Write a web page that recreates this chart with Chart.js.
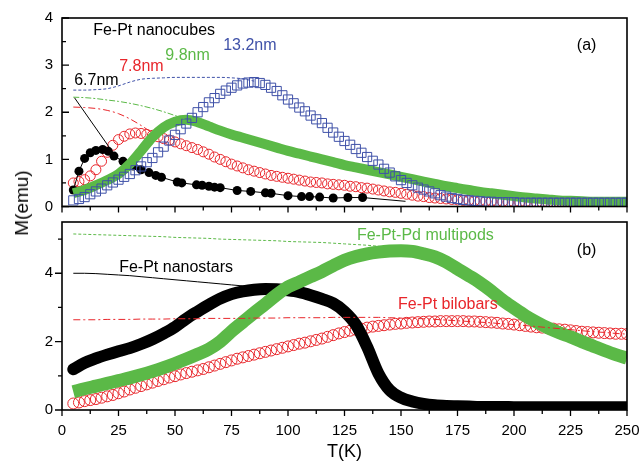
<!DOCTYPE html>
<html>
<head>
<meta charset="utf-8">
<script src="https://cdn.jsdelivr.net/npm/chart.js@4.4.1/dist/chart.umd.min.js"></script>
<style>
  body { margin: 0; background: #fff; }
  #wrap { position: relative; width: 641px; height: 469px; overflow: hidden; font-family: "Liberation Sans", Arial, sans-serif; }
  #topChart { position: absolute; left: 0; top: 0; }
  #botChart { position: absolute; left: 0; top: 214px; }
  #ylab { position: absolute; left: 22px; top: 203px; font-size: 19px; white-space: nowrap;
          transform: translate(-50%, -50%) rotate(-90deg); }
</style>
</head>
<body>
<div id="wrap">
  <canvas id="topChart" width="641" height="214"></canvas>
  <canvas id="botChart" width="641" height="255"></canvas>
  <div id="ylab">M(emu)</div>
</div>
<script>
// temperature grids (K)
var temps = [5,10,15,20,25,30,35,40,45,50,55,60,65,70,75,80,85,90,95,100,105,110,115,120,125,130,135,140,145,150,155,160,165,170,175,180,185,190,195,200,205,210,215,220,225,230,235,240,245,250];
var temps2 = [5,7.5,10,12.5,15,17.5,20,22.5,25,27.5,30,32.5,35,37.5,40,42.5,45,47.5,50,52.5,55,57.5,60,62.5,65,67.5,70,72.5,75,77.5,80,82.5,85,87.5,90,92.5,95,97.5,100,102.5,105,107.5,110,112.5,115,117.5,120,122.5,125,127.5,130,132.5,135,137.5,140,142.5,145,147.5,150,152.5,155,157.5,160,162.5,165,167.5,170,172.5,175,177.5,180,182.5,185,187.5,190,192.5,195,197.5,200,202.5,205,207.5,210,212.5,215,217.5,220,222.5,225,227.5,230,232.5,235,237.5,240,242.5,245,247.5,250];

// (a) Fe-Pt nanocubes  (zfc* on temps2 / temps, fc* on temps)
var zfc78 = [0.50,0.53,0.57,0.65,0.78,0.96,1.15,1.30,1.42,1.49,1.54,1.56,1.55,1.53,1.51,1.48,1.44,1.41,1.37,1.33,1.29,1.25,1.21,1.16,1.11,1.05,1.00,0.95,0.90,0.86,0.82,0.78,0.75,0.72,0.69,0.66,0.64,0.62,0.60,0.58,0.56,0.54,0.52,0.51,0.50,0.48,0.47,0.46,0.45,0.43,0.42,0.40,0.39,0.37,0.35,0.33,0.31,0.30,0.28,0.26,0.24,0.22,0.21,0.19,0.18,0.17,0.16,0.15,0.14,0.13,0.13,0.12,0.12,0.11,0.11,0.10,0.10,0.09,0.09,0.09,0.09,0.08,0.08,0.08,0.08,0.08,0.08,0.08,0.08,0.08,0.07,0.07,0.07,0.07,0.07,0.07,0.07,0.07,0.07];
var fc78 = [2.11,2.10,2.08,2.04,1.97,1.86,1.72,1.56];
var zfc98 = [0.28,0.35,0.45,0.56,0.69,0.90,1.18,1.47,1.68,1.80,1.84,1.79,1.70,1.61,1.53,1.46,1.39,1.32,1.25,1.18,1.12,1.06,1.00,0.94,0.88,0.83,0.78,0.73,0.68,0.63,0.58,0.53,0.48,0.43,0.39,0.35,0.31,0.28,0.25,0.22,0.19,0.17,0.15,0.13,0.12,0.11,0.10,0.10,0.10,0.10];
var fc98 = [2.32,2.31,2.29,2.26,2.23,2.19,2.14,2.08,2.01,1.93,1.85];
var zfc132 = [0.13,0.16,0.20,0.26,0.32,0.38,0.45,0.51,0.57,0.63,0.69,0.77,0.85,0.94,1.03,1.15,1.27,1.40,1.52,1.64,1.76,1.88,2.00,2.11,2.21,2.30,2.39,2.46,2.52,2.57,2.61,2.63,2.64,2.62,2.58,2.52,2.45,2.36,2.27,2.19,2.10,2.02,1.93,1.85,1.77,1.67,1.57,1.48,1.39,1.31,1.22,1.14,1.05,0.97,0.89,0.80,0.72,0.64,0.56,0.50,0.45,0.40,0.36,0.32,0.28,0.24,0.21,0.18,0.16,0.14,0.13,0.12,0.11,0.10,0.10,0.09,0.09,0.09,0.09,0.08,0.08,0.08,0.08,0.08,0.08,0.08,0.08,0.08,0.08,0.08,0.08,0.08,0.08,0.08,0.08,0.08,0.08,0.08,0.08];
var fc132 = [2.47,2.47,2.48,2.50,2.56,2.64,2.70,2.72,2.73,2.74,2.74,2.74,2.74,2.74,2.73,2.71,2.66];
var t67 = [5,7.5,10,12.5,15,18,20.5,23,27,31.5,35,38.5,41.5,44,51,53,59.5,62,65,67.5,70,77.5,83.5,90,92.5,100,106,109.5,114,120,126.5,133,152];
var m67 = [0.35,0.75,1.02,1.14,1.19,1.21,1.17,1.07,0.96,0.86,0.78,0.72,0.66,0.62,0.52,0.50,0.46,0.45,0.43,0.41,0.40,0.34,0.32,0.29,0.28,0.23,0.21,0.21,0.20,0.18,0.19,0.19,0.11];
var ptrT = [5.5, 21];
var ptrM = [2.31, 1.25];

// (b) nanostars, multipods, bilobars
var stars = [1.19,1.38,1.51,1.62,1.72,1.81,1.93,2.07,2.24,2.43,2.67,2.88,3.08,3.26,3.39,3.47,3.52,3.54,3.53,3.50,3.45,3.36,3.25,3.12,2.88,2.50,1.85,1.07,0.58,0.36,0.25,0.18,0.14,0.12,0.11,0.10,0.09,0.09,0.09,0.08,0.08,0.08,0.08,0.08,0.08,0.08,0.08,0.08,0.08,0.08];
var starsFC = [4.00,4.00,3.99,3.97,3.95,3.93,3.90,3.87,3.84,3.81,3.78,3.75,3.72,3.69,3.66,3.63,3.60,3.56];
var pods = [0.53,0.62,0.70,0.78,0.86,0.94,1.03,1.13,1.24,1.36,1.49,1.63,1.78,2.00,2.30,2.57,2.84,3.10,3.37,3.60,3.75,3.90,4.05,4.22,4.38,4.49,4.57,4.62,4.65,4.66,4.64,4.57,4.48,4.33,4.13,3.93,3.72,3.48,3.21,2.98,2.76,2.57,2.40,2.26,2.14,2.00,1.87,1.74,1.62,1.52];
var podsFC = [5.15,5.14,5.13,5.12,5.11,5.10,5.09,5.08,5.07,5.05,5.04,5.03,5.02,5.00,4.99,4.98,4.97,4.96,4.95,4.93,4.92,4.91,4.90,4.88,4.86,4.84,4.82,4.79,4.76,4.72,4.67];
var bilo = [0.19,0.22,0.26,0.29,0.32,0.36,0.40,0.44,0.49,0.54,0.60,0.65,0.70,0.75,0.80,0.85,0.90,0.95,0.99,1.04,1.08,1.12,1.16,1.20,1.25,1.30,1.35,1.40,1.45,1.50,1.54,1.58,1.62,1.66,1.70,1.74,1.78,1.82,1.86,1.90,1.94,1.97,2.01,2.05,2.09,2.14,2.19,2.24,2.28,2.32,2.35,2.38,2.41,2.44,2.46,2.48,2.50,2.52,2.53,2.55,2.56,2.57,2.58,2.59,2.59,2.60,2.60,2.60,2.60,2.60,2.59,2.59,2.58,2.57,2.56,2.55,2.53,2.52,2.50,2.48,2.46,2.44,2.42,2.41,2.39,2.38,2.36,2.35,2.33,2.31,2.29,2.28,2.27,2.26,2.25,2.24,2.23,2.23,2.22];
var biloFC = [2.64,2.64,2.64,2.65,2.65,2.65,2.66,2.66,2.66,2.67,2.67,2.67,2.68,2.68,2.68,2.68,2.69,2.69,2.69,2.70,2.70,2.70,2.70,2.71,2.71,2.71,2.71,2.71,2.70,2.69,2.68,2.67,2.65,2.63,2.61,2.59,2.57,2.55,2.52,2.50,2.47,2.44,2.41,2.38,2.35,2.32,2.29,2.27,2.24,2.22];

// ticks
var xTicks = [0,25,50,75,100,125,150,175,200,225,250];
var xMinor = [12.5,37.5,62.5,87.5,112.5,137.5,162.5,187.5,212.5,237.5];
var yTicksA = [0,1,2,3,4];
var yMinorA = [0.5,1.5,2.5,3.5];
var yTicksB = [0,2,4];
var yMinorB = [1,3,5];

var RED = '#e8262b', GREEN = '#5bb947', BLUE = '#3f51a8', BLACK = '#000';
var FONT = '"Liberation Sans", Arial, sans-serif';

function pts(xs, ys) {
  return ys.map(function(v, i){ return {x: xs[i], y: v}; });
}

var frameTicks = {
  id: 'frameTicks',
  afterDraw: function(chart, args, opts) {
    var ctx = chart.ctx, a = chart.chartArea, sx = chart.scales.x, sy = chart.scales.y;
    ctx.save();
    ctx.strokeStyle = '#000';
    ctx.lineWidth = 1.6;
    ctx.strokeRect(a.left, a.top, a.right - a.left, a.bottom - a.top);
    ctx.lineWidth = 1.3;
    ctx.beginPath();
    xTicks.forEach(function(v){ var x = sx.getPixelForValue(v); ctx.moveTo(x, a.bottom); ctx.lineTo(x, a.bottom + 6); });
    xMinor.forEach(function(v){ var x = sx.getPixelForValue(v); ctx.moveTo(x, a.bottom); ctx.lineTo(x, a.bottom + 4); });
    var d = opts.yInward ? 1 : -1;
    opts.yMajor.forEach(function(v){ var y = sy.getPixelForValue(v); ctx.moveTo(a.left, y); ctx.lineTo(a.left + d * 7, y); });
    opts.yMinor.forEach(function(v){ var y = sy.getPixelForValue(v); ctx.moveTo(a.left, y); ctx.lineTo(a.left + d * 4, y); });
    ctx.stroke();
    ctx.restore();
  }
};

var notes = {
  id: 'notes',
  afterDatasetsDraw: function(chart, args, opts) {
    var ctx = chart.ctx, sx = chart.scales.x, sy = chart.scales.y;
    ctx.save();
    ctx.font = '16px ' + FONT;
    ctx.textAlign = 'left';
    ctx.textBaseline = 'middle';
    opts.items.forEach(function(it){
      ctx.fillStyle = it.color;
      ctx.fillText(it.text, sx.getPixelForValue(it.t), sy.getPixelForValue(it.m));
    });
    ctx.restore();
  }
};

function hollow(color, style, r, order, data) {
  return { data: data, showLine: false, pointStyle: style, pointRadius: r, pointBorderWidth: 1,
           pointBackgroundColor: 'rgba(255,255,255,0)', pointBorderColor: color, borderColor: color, order: order };
}
function band(color, width, cap, order, data) {
  return { data: data, borderColor: color, borderWidth: width, borderCapStyle: cap,
           cubicInterpolationMode: 'monotone', pointRadius: 0, order: order };
}
function fcLine(color, dash, order, data) {
  return { data: data, borderColor: color, borderWidth: 1, borderDash: dash, pointRadius: 0,
           cubicInterpolationMode: 'monotone', order: order };
}

function baseOpts(yMax, yTicks, extra) {
  return {
    responsive: false, animation: false, devicePixelRatio: 1,
    plugins: { legend: { display: false }, tooltip: { enabled: false } },
    scales: {
      x: Object.assign({ type: 'linear', min: 0, max: 250,
        grid: { display: false, drawTicks: false }, border: { display: false },
        afterBuildTicks: function(s){ s.ticks = xTicks.map(function(v){ return {value: v}; }); } }, extra),
      y: { type: 'linear', min: 0, max: yMax,
        grid: { display: false, drawTicks: false }, border: { display: false },
        ticks: { padding: 9, color: '#000', font: { size: 15, family: FONT } },
        afterBuildTicks: function(s){ s.ticks = yTicks.map(function(v){ return {value: v}; }); },
        afterFit: function(s){ s.width = 62; s.paddingTop = 0; s.paddingBottom = 0; } }
    }
  };
}

var optsA = baseOpts(4, yTicksA, { display: false });
optsA.layout = { padding: { left: 0, right: 14, top: 18, bottom: 7 } };
optsA.plugins.frameTicks = { yInward: true, yMajor: yTicksA, yMinor: yMinorA };
optsA.plugins.notes = { items: [
  { text: 'Fe-Pt nanocubes', t: 13.8, m: 3.73, color: BLACK },
  { text: '13.2nm', t: 71.3, m: 3.41, color: BLUE },
  { text: '9.8nm', t: 45.7, m: 3.20, color: GREEN },
  { text: '7.8nm', t: 25.3, m: 2.97, color: RED },
  { text: '6.7nm', t: 5.4, m: 2.67, color: BLACK },
  { text: '(a)', t: 227.8, m: 3.41, color: BLACK }
] };

new Chart(document.getElementById('topChart'), {
  type: 'line',
  data: { datasets: [
    fcLine(BLUE, [3, 2], 1, pts(temps, fc132)),
    fcLine(GREEN, [6, 2, 2, 2], 2, pts(temps, fc98)),
    fcLine(RED, [7, 3, 2, 3], 3, pts(temps, fc78)),
    { data: pts(ptrT, ptrM), borderColor: BLACK, borderWidth: 1, pointRadius: 0, order: 4 },
    hollow(BLUE, 'rect', 6.5, 5, pts(temps2, zfc132)),
    band(GREEN, 10, 'butt', 6, pts(temps, zfc98)),
    { data: pts(t67, m67), borderColor: BLACK, borderWidth: 1, pointStyle: 'circle', order: 7,
      pointBackgroundColor: BLACK, pointBorderWidth: 0,
      pointRadius: function(c){ return c.dataIndex === t67.length - 1 ? 0 : 4.5; } },
    hollow(RED, 'circle', 5, 8, pts(temps2, zfc78))
  ] },
  options: optsA,
  plugins: [frameTicks, notes]
});

var optsB = baseOpts(5.5, yTicksB, {
  ticks: { padding: 12, color: '#000', maxRotation: 0, font: { size: 15, family: FONT } },
  title: { display: true, text: 'T(K)', color: '#000', font: { size: 18, family: FONT }, padding: { top: 4, bottom: 6 } },
  afterFit: function(s){ s.height = 59; s.paddingLeft = 0; s.paddingRight = 0; }
});
optsB.layout = { padding: { left: 0, right: 14, top: 8, bottom: 0 } };
optsB.plugins.frameTicks = { yInward: false, yMajor: yTicksB, yMinor: yMinorB };
optsB.plugins.notes = { items: [
  { text: 'Fe-Pt nanostars', t: 25.3, m: 4.17, color: BLACK },
  { text: 'Fe-Pt-Pd multipods', t: 130.5, m: 5.10, color: GREEN },
  { text: '(b)', t: 227.8, m: 4.66, color: BLACK },
  { text: 'Fe-Pt bilobars', t: 148.7, m: 3.09, color: RED }
] };

new Chart(document.getElementById('botChart'), {
  type: 'line',
  data: { datasets: [
    fcLine(RED, [7, 3, 2, 3], 1, pts(temps, biloFC)),
    fcLine(GREEN, [3, 2], 2, pts(temps, podsFC)),
    fcLine(BLACK, [], 3, pts(temps, starsFC)),
    band(GREEN, 13, 'butt', 4, pts(temps, pods)),
    band(BLACK, 12, 'round', 5, pts(temps, stars)),
    hollow(RED, 'circle', 5.5, 6, pts(temps2, bilo))
  ] },
  options: optsB,
  plugins: [frameTicks, notes]
});
</script>
</body>
</html>
